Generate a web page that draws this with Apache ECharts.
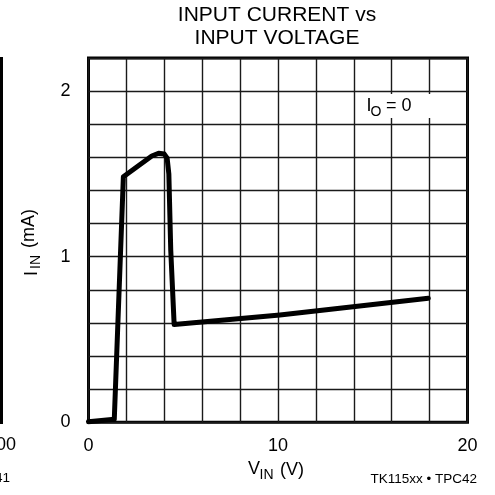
<!DOCTYPE html>
<html><head><meta charset="utf-8">
<script src="https://cdn.jsdelivr.net/npm/echarts@6/dist/echarts.min.js"></script>
<style>html,body{margin:0;padding:0;background:#fff}#c{width:495px;height:495px}</style>
</head><body><div id="c"></div>
<script>
// Input voltage (V) and input current (mA)
const vinValues = [0, 1.36, 1.84, 3.34, 3.7, 4.0, 4.15, 4.24, 4.34, 4.52, 10.1, 17.93];
const iinValues = [0.003, 0.018, 1.483, 1.608, 1.625, 1.62, 1.595, 1.5, 1.04, 0.59, 0.648, 0.749];
const xTickValues = [0, 10, 20];
const xTickLabels = ['0', '10', '20'];
const yTickValues = [0, 1, 2];
const yTickLabels = ['0', '1', '2'];

const FONT = '"Liberation Sans", Arial, sans-serif';
function txt(x, y, text, size, align, va) {
  return { type: 'text', x: x, y: y, z: 100,
    style: { text: text, font: size + 'px ' + FONT, fill: '#000', align: align || 'left', verticalAlign: va || 'middle' } };
}
function pick(vals, labels) {
  return function (v) {
    const i = vals.findIndex(function (t) { return Math.abs(t - v) < 1e-6; });
    return i >= 0 ? labels[i] : '';
  };
}

const chart = echarts.init(document.getElementById('c'), null, { renderer: 'canvas' });
chart.setOption({
  animation: false,
  backgroundColor: '#fff',
  grid: { left: 88.5, right: 27.5, top: 58, bottom: 72.7, show: true, borderColor: '#000', borderWidth: 3, backgroundColor: 'transparent' },
  xAxis: {
    type: 'value', min: 0, max: 20, interval: 2,
    axisLine: { show: false }, axisTick: { show: false },
    splitLine: { show: true, lineStyle: { color: '#1a1a1a', width: 1.4 } },
    axisLabel: { formatter: pick(xTickValues, xTickLabels), fontSize: 18, fontFamily: FONT, color: '#000', margin: 15, showMinLabel: true, showMaxLabel: true }
  },
  yAxis: {
    type: 'value', min: 0, max: 2.2, interval: 0.2,
    axisLine: { show: false }, axisTick: { show: false },
    splitLine: { show: true, lineStyle: { color: '#1a1a1a', width: 1.4 } },
    axisLabel: { formatter: pick(yTickValues, yTickLabels), fontSize: 18, fontFamily: FONT, color: '#000', margin: 18, showMinLabel: true, showMaxLabel: true }
  },
  series: [{
    type: 'line',
    data: vinValues.map(function (v, i) { return [v, iinValues[i]]; }),
    showSymbol: false, symbol: 'none',
    lineStyle: { color: '#000', width: 5, join: 'round', cap: 'round' },
    z: 10
  }],
  graphic: [
    txt(277, 15, 'INPUT CURRENT vs', 21, 'center'),
    txt(277, 38.5, 'INPUT VOLTAGE', 21, 'center'),
    { type: 'rect', z: 50, shape: { x: 356, y: 94, width: 76, height: 24 }, style: { fill: '#fff' } },
    txt(366.5, 106.5, 'I', 18),
    txt(370.5, 112.5, 'O', 14),
    txt(386, 106.5, '= 0', 18),
    txt(248, 469.5, 'V', 18),
    txt(259.5, 475.5, 'IN', 14),
    txt(280, 470, '(V)', 18),
    { type: 'group', x: 29, y: 244, rotation: Math.PI / 2, z: 100, children: [
      txt(-32, 3, 'I', 18),
      txt(-25, 7.5, 'IN', 14),
      txt(-4, 0.5, '(mA)', 18)
    ] },
    txt(477, 479, 'TK115xx \u2022 TPC42', 13.5, 'right'),
    { type: 'rect', z: 50, shape: { x: 0, y: 57, width: 3, height: 367 }, style: { fill: '#000' } },
    txt(16, 445.5, '100', 18, 'right'),
    txt(10, 478, 'TK115xx \u2022 TPC41', 13.5, 'right')
  ]
});
</script></body></html>
